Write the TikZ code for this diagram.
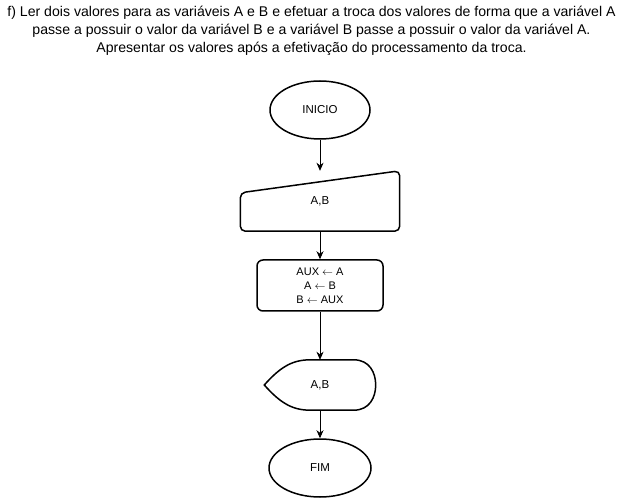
\documentclass[tikz,border=0pt]{standalone}
\usepackage{fontspec}
\setmainfont{Liberation Sans}
\usetikzlibrary{shapes.geometric,arrows.meta,calc}

\begin{document}
\begin{tikzpicture}[x=1pt,y=-1pt,
  forma/.style={draw,line width=1.5pt},
  seta/.style={-{Stealth[length=8pt,width=7pt,inset=2.5pt]},line width=0.8pt},
  texto/.style={font=\fontsize{11.5}{14}\selectfont,inner sep=0pt}]
  \useasboundingbox (0,0) rectangle (621,502);
  % enunciado
  \node[align=center,font=\fontsize{14.1}{18}\selectfont] (titulo) at (311.5,31)
  {f) Ler dois valores para as variáveis A e B e efetuar a troca dos valores de forma que a variável A\\
   passe a possuir o valor da variável B e a variável B passe a possuir o valor da variável A.\\
   Apresentar os valores após a efetivação do processamento da troca.};
  % fluxograma
  \node[forma,ellipse,texto,minimum width=100,minimum height=58] (inicio) at (320,110) {INICIO};
  \node[texto,minimum width=159,minimum height=60] (ler) at (320,201) {A,B};
  \draw[forma,rounded corners=5] (ler.south west) -- ($(ler.north west)+(0,22)$)
    -- (ler.north east) -- (ler.south east) -- cycle;
  \node[forma,rounded corners=6,texto,font=\fontsize{11}{14}\selectfont,align=center,
    minimum width=126,minimum height=51] (proc) at (320,285.5)
  {\raisebox{-2pt}{AUX $\leftarrow$ A}\\\raisebox{-2pt}{A $\leftarrow$ B}\\\raisebox{-2pt}{B $\leftarrow$ AUX}};
  \node[texto,minimum width=111,minimum height=50] (mostra) at (320,385) {A,B};
  \draw[forma] (mostra.west) .. controls ($(mostra.west)+(16,-18)$) and ($(mostra.north west)+(28,0)$)
    .. ($(mostra.north west)+(46,0)$) -- ($(mostra.north east)+(-22,0)$)
    .. controls ($(mostra.north east)+(-6,0)$) and ($(mostra.east)+(0,-12)$) .. (mostra.east)
    .. controls ($(mostra.east)+(0,12)$) and ($(mostra.south east)+(-6,0)$) .. ($(mostra.south east)+(-22,0)$)
    -- ($(mostra.south west)+(46,0)$)
    .. controls ($(mostra.south west)+(28,0)$) and ($(mostra.west)+(16,18)$) .. cycle;
  \node[forma,ellipse,texto,minimum width=102,minimum height=58] (fim) at (320,468) {FIM};
  % setas
  \draw[seta] (inicio.south) -- (ler.north);
  \draw[seta] (ler.south) -- (proc.north);
  \draw[seta] (proc.south) -- (mostra.north);
  \draw[seta] (mostra.south) -- (fim.north);
\end{tikzpicture}
\end{document}
